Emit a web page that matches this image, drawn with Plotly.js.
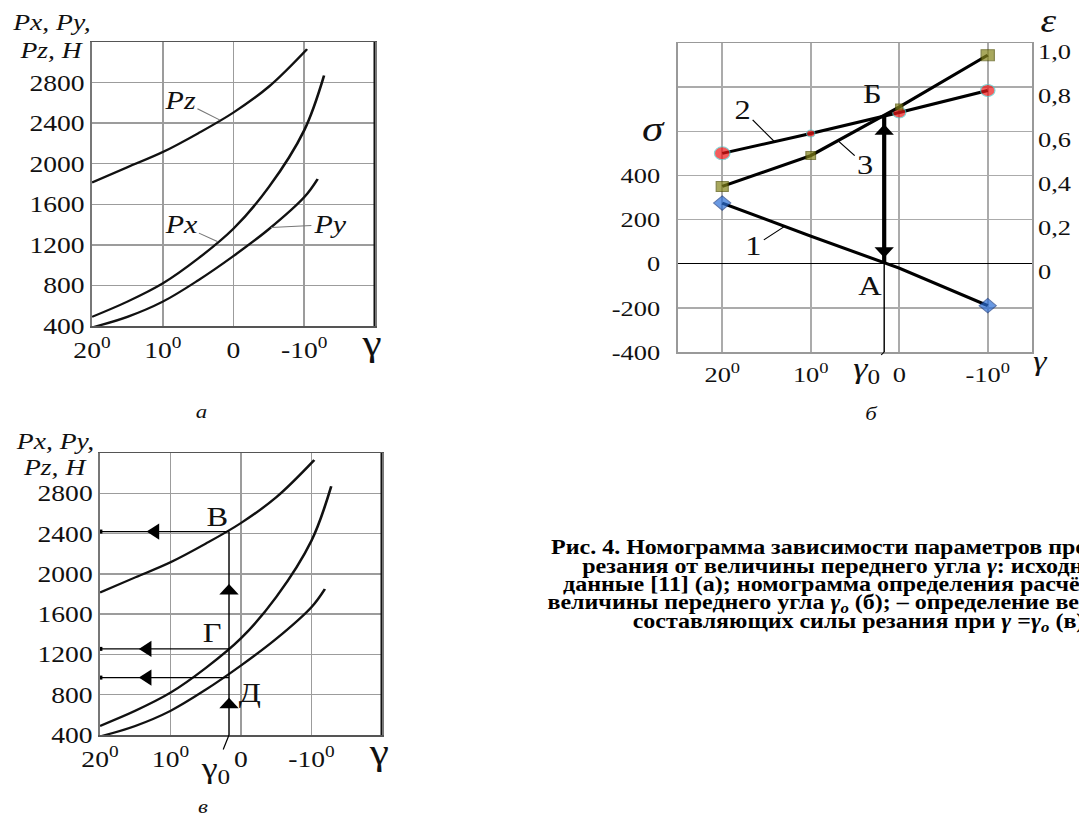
<!DOCTYPE html>
<html>
<head>
<meta charset="utf-8">
<script src="https://cdn.plot.ly/plotly-3.0.1.min.js"></script>
<style>
  body { margin: 0; background: #fff; overflow: hidden; }
  /* the scanned figure is stretched horizontally, so the whole plot is too */
  #chart { width: 899px; height: 817px; transform: scaleX(1.2002); transform-origin: 0 0; }
</style>
</head>
<body>
<div id="chart"></div>
<script>
// силы резания Pz, Px, Py от переднего угла (рис. а и в)
var pzGamma = [20, 15, 10, 5, 0, -5, -10.4];
var pzForce = [1815, 1965, 2115, 2300, 2505, 2760, 3130];
var pxGamma = [20, 15, 10, 5, 0, -5, -10, -12.8];
var pxForce = [490, 640, 820, 1065, 1360, 1770, 2330, 2870];
var pyGamma = [20, 15, 10, 5, 0, -5, -10, -11.9];
var pyForce = [385, 490, 640, 850, 1090, 1355, 1670, 1850];

// номограмма (рис. б)
var nomoGamma = [20, 10, 0, -10];
var sigma1 = [275, 125, -20, -190];
var sigma2 = [500, 590, 685, 785];
var eps3 = [0.35, 0.49, 0.71, 0.945];
var gamma0 = 1.7;
var sigmaB = 672;

// рис. в: составляющие при gamma0
var forceAtGamma0 = [2420, 1255, 970];
var leftArrowGamma = [12.2, 13.3, 13.3];
var upArrowForce = [1830, 700];

// подписи осей
var gammaTicks = [20, 10, 0, -10, -20];
var gammaText = ['20<sup>0</sup>', '10<sup>0</sup>', '0', '-10<sup>0</sup>', ''];
var nomoTicks = [20, 10, 0, -10];
var nomoText = ['20<sup>0</sup>', '10<sup>0</sup>', '0', '-10<sup>0</sup>'];
var forceTicks = [400, 800, 1200, 1600, 2000, 2400, 2800, 3200];
var forceText = ['400', '800', '1200', '1600', '2000', '2400', '2800', ''];
var sigmaTicks = [-400, -200, 0, 200, 400, 600, 800, 1000];
var sigmaText = ['-400', '-200', '0', '200', '400', '', '', ''];
var epsTicks = [0, 0.2, 0.4, 0.6, 0.8, 1.0];
var epsText = ['0', '0,2', '0,4', '0,6', '0,8', '1,0'];

var W = 1079, H = 817, S = 1079 / 899;
var serif = "'Liberation Serif', 'Times New Roman', serif";

function fx(p) { return p / W; }
function fy(p) { return 1 - p / H; }
function font(size) { return { family: serif, size: size, color: '#111' }; }

function curve(xs, ys, xa, ya) {
  return { x: xs, y: ys, xaxis: xa, yaxis: ya, type: 'scatter', mode: 'lines',
    line: { color: '#111', width: 2.2, shape: 'spline' }, hoverinfo: 'skip' };
}
function seg(xs, ys, xa, ya, w) {
  return { x: xs, y: ys, xaxis: xa, yaxis: ya, type: 'scatter', mode: 'lines',
    line: { color: '#000', width: w }, hoverinfo: 'skip' };
}
function heads(xs, ys, xa, ya, sym, size) {
  return { x: xs, y: ys, xaxis: xa, yaxis: ya, type: 'scatter', mode: 'markers',
    marker: { symbol: sym, size: size, color: '#000' }, hoverinfo: 'skip' };
}

var data = [
  // а
  curve(pzGamma, pzForce, 'x', 'y'),
  curve(pxGamma, pxForce, 'x', 'y'),
  curve(pyGamma, pyForce, 'x', 'y'),
  // б
  { x: nomoGamma, y: sigma1, xaxis: 'x2', yaxis: 'y2', type: 'scatter', mode: 'lines+markers',
    line: { color: '#000', width: 3 },
    marker: { symbol: 'diamond', size: [11, 0, 0, 11], color: '#2b6fd8', line: { color: '#1b3f8a', width: 1 } } },
  { x: nomoGamma, y: sigma2, xaxis: 'x2', yaxis: 'y2', type: 'scatter', mode: 'lines+markers',
    line: { color: '#000', width: 3 },
    marker: { symbol: 'circle', size: [13, 7, 11, 12], color: '#f01818', line: { color: '#50c8c8', width: 1 } } },
  { x: nomoGamma, y: eps3, xaxis: 'x2', yaxis: 'y3', type: 'scatter', mode: 'lines+markers',
    line: { color: '#000', width: 3 },
    marker: { symbol: 'square', size: [10, 8, 6, 11], color: '#84841a', line: { color: '#505000', width: 1 } } },
  seg([gamma0, gamma0], [0, sigmaB], 'x2', 'y2', 3.5),
  seg([gamma0, gamma0], [-400, 0], 'x2', 'y2', 1.2),
  heads([gamma0], [600], 'x2', 'y2', 'triangle-up', 14),
  heads([gamma0], [59], 'x2', 'y2', 'triangle-down', 14),
  // в
  curve(pzGamma, pzForce, 'x3', 'y4'),
  curve(pxGamma, pxForce, 'x3', 'y4'),
  curve(pyGamma, pyForce, 'x3', 'y4'),
  seg([gamma0, gamma0], [400, forceAtGamma0[0]], 'x3', 'y4', 1.2),
  seg([20, gamma0], [forceAtGamma0[0], forceAtGamma0[0]], 'x3', 'y4', 1.2),
  seg([20, gamma0], [forceAtGamma0[1], forceAtGamma0[1]], 'x3', 'y4', 1.2),
  seg([20, gamma0], [forceAtGamma0[2], forceAtGamma0[2]], 'x3', 'y4', 1.2),
  heads([20, 20, 20], forceAtGamma0, 'x3', 'y4', 'square', 4),
  heads(leftArrowGamma, forceAtGamma0, 'x3', 'y4', 'triangle-left', 14),
  heads([gamma0, gamma0], upArrowForce, 'x3', 'y4', 'triangle-up', 14)
];

function forceX(dom, anchor) {
  return { domain: dom, anchor: anchor, range: [20, -20], tickmode: 'array', tickvals: gammaTicks, ticktext: gammaText,
    showgrid: true, gridcolor: '#9c9c9c', gridwidth: 1.5, zeroline: false, showline: true, mirror: true,
    linecolor: '#555', linewidth: 1.5, ticks: '', tickfont: font(23), ticklabelstandoff: 3, fixedrange: true };
}
function forceY(dom, anchor) {
  return { domain: dom, anchor: anchor, range: [400, 3200], tickmode: 'array', tickvals: forceTicks, ticktext: forceText,
    showgrid: true, gridcolor: '#9c9c9c', gridwidth: 1.5, zeroline: false, showline: true, mirror: true,
    linecolor: '#777', linewidth: 1.5, ticks: '', tickfont: font(23), ticklabelstandoff: 0, fixedrange: true };
}

function note(xp, yp, text, size, extra) {
  var a = { xref: 'paper', yref: 'paper', x: fx(xp), y: fy(yp), text: text, showarrow: false,
    font: font(size), xanchor: 'center', yanchor: 'middle' };
  return Object.assign(a, extra || {});
}
function leader(xr, yr, x, y, dxp, dyp, text, size, color) {
  return { xref: xr, yref: yr, x: x, y: y, ax: dxp / S, ay: dyp, text: text, showarrow: true,
    arrowhead: 0, arrowwidth: 1, arrowcolor: color, standoff: 0, font: font(size) };
}
function capLine(xp, yp, text) {
  return { xref: 'paper', yref: 'paper', x: fx(xp), y: fy(yp), text: '<b>' + text + '</b>', showarrow: false,
    font: { family: serif, size: 20, color: '#000' }, xanchor: 'left', yanchor: 'middle' };
}

var annotations = [
  // а
  note(10, 23, '<i>Px, Py,</i>', 23, { xanchor: 'left' }),
  note(17, 51, '<i>Pz, Н</i>', 23, { xanchor: 'left' }),
  leader('x', 'y', 1.9, 2430, -40, -20, '<i>Pz</i>', 25, '#777'),
  leader('x', 'y', 2.2, 1230, -37, -17, '<i>Px</i>', 25, '#777'),
  leader('x', 'y', -5.3, 1370, 59, -3, '<i>Py</i>', 25, '#777'),
  note(372, 343, 'γ', 36),
  note(202, 411, '<i>а</i>', 19),
  // б
  note(654, 129, '<i>σ</i>', 36),
  note(1048, 21, '<i>ε</i>', 33),
  note(1040, 360, '<i>γ</i>', 28),
  note(873, 94, 'Б', 27),
  note(870, 286, 'А', 27),
  leader('x2', 'y2', 14.1, 553, -32, -32, '2', 27, '#000'),
  leader('x2', 'y3', 6.93, 0.5575, 27, 24, '3', 27, '#000'),
  leader('x2', 'y2', 12.95, 169, -31, 20, '1', 27, '#000'),
  leader('x2', 'y2', gamma0, -400, -18, 18, '<i>γ</i><sub>0</sub>', 30, '#000'),
  note(872, 413, '<i>б</i>', 19),
  // в
  note(13, 441, '<i>Px, Py,</i>', 23, { xanchor: 'left' }),
  note(20, 467, '<i>Pz, Н</i>', 23, { xanchor: 'left' }),
  note(217, 517, 'В', 27),
  note(212, 633, 'Г', 27),
  note(250, 693, 'Д', 27),
  note(379, 752, 'γ', 36),
  leader('x3', 'y4', gamma0, 400, -14, 35, 'γ<sub>0</sub>', 30, '#000'),
  note(203, 806, '<i>в</i>', 19),
  // подпись
  capLine(548, 547, 'Рис. 4. Номограмма зависимости параметров процесса'),
  capLine(580, 566, 'резания от величины переднего угла <i>γ</i>: исходные'),
  capLine(560, 584, 'данные [11] (а); номограмма определения расчётной'),
  capLine(545, 603, 'величины переднего угла <i>γ<sub>o</sub></i> (б); – определение величин'),
  capLine(630, 622, 'составляющих силы резания при <i>γ</i> =<i>γ<sub>o</sub></i> (в)')
];

var layout = {
  width: 899, height: 817,
  margin: { l: 0, r: 0, t: 0, b: 0 },
  paper_bgcolor: '#fff', plot_bgcolor: '#fff',
  showlegend: false,
  xaxis: forceX([fx(92), fx(375)], 'y'),
  yaxis: forceY([fy(326), fy(42)], 'x'),
  xaxis2: { domain: [fx(678), fx(1032)], anchor: 'y2', range: [25, -15], tickmode: 'array',
    tickvals: nomoTicks, ticktext: nomoText, showgrid: true, gridcolor: '#ababab', gridwidth: 1.5,
    zeroline: false, showline: true, mirror: true, linecolor: '#999', linewidth: 1.5, ticks: '',
    tickfont: font(22), ticklabelstandoff: 2, fixedrange: true },
  yaxis2: { domain: [fy(352), fy(43)], anchor: 'x2', range: [-400, 1000], tickmode: 'array',
    tickvals: sigmaTicks, ticktext: sigmaText, showgrid: true, gridcolor: '#ababab', gridwidth: 1.5,
    zeroline: true, zerolinecolor: '#000', zerolinewidth: 1.5, showline: true, mirror: true,
    linecolor: '#999', linewidth: 1.5, ticks: '', tickfont: font(22), ticklabelstandoff: 9, fixedrange: true },
  yaxis3: { overlaying: 'y2', anchor: 'x2', side: 'right', range: [-0.4, 1.0], tickmode: 'array',
    tickvals: epsTicks, ticktext: epsText, showgrid: false, zeroline: false, showline: false, ticks: '',
    tickfont: font(22), ticklabelshift: 8, ticklabelstandoff: 4, fixedrange: true },
  xaxis3: forceX([fx(100), fx(382)], 'y4'),
  yaxis4: forceY([fy(735), fy(453)], 'x3'),
  shapes: [
    { type: 'line', xref: 'x', yref: 'y', x0: -20, x1: -20, y0: 400, y1: 3200, line: { color: '#111', width: 2.5 } },
    { type: 'line', xref: 'x3', yref: 'y4', x0: -20, x1: -20, y0: 400, y1: 3200, line: { color: '#111', width: 2.5 } }
  ],
  annotations: annotations
};

Plotly.newPlot('chart', data, layout, { displayModeBar: false, staticPlot: true });
</script>
</body>
</html>
